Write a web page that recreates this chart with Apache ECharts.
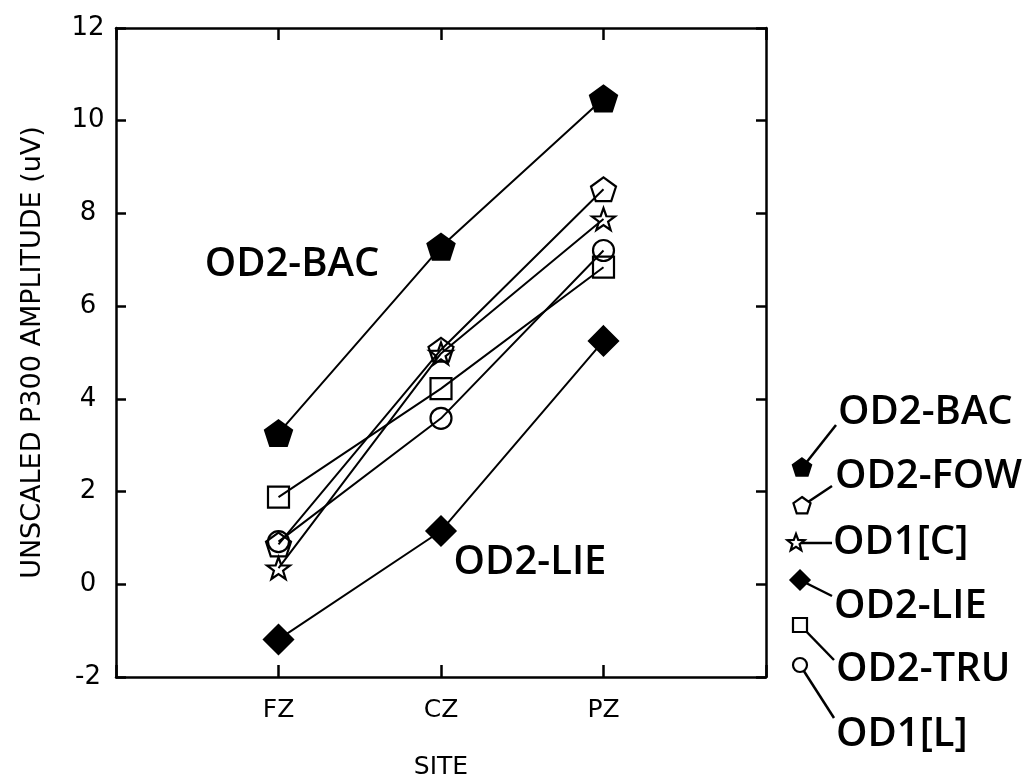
<!DOCTYPE html>
<html>
<head>
<meta charset="utf-8">
<script src="https://cdn.jsdelivr.net/npm/echarts@6/dist/echarts.min.js"></script>
<style>
  html, body { margin: 0; padding: 0; background: #fff; }
  #chart { width: 1031px; height: 776px; }
</style>
</head>
<body>
<div id="chart"></div>
<script>
// sites along the x axis
const sites = ["FZ", "CZ", "PZ"];
const yTicks = [-2, 0, 2, 4, 6, 8, 10, 12];

// amplitudes (uV) per condition, FZ / CZ / PZ
const od2Bac = [3.26, 7.28, 10.48];
const od2Fow = [0.86, 5.06, 8.52];
const od1C = [0.35, 4.98, 7.88];
const od2Lie = [-1.19, 1.15, 5.25];
const od2Tru = [1.88, 4.22, 6.84];
const od1L = [0.92, 3.58, 7.2];

const names = ["OD2-BAC", "OD2-FOW", "OD1[C]", "OD2-LIE", "OD2-TRU", "OD1[L]"];

const pentagon = "path://M0,-10 L9.51,-3.09 L5.88,8.09 L-5.88,8.09 L-9.51,-3.09 Z";
const star = "path://M0,-10 L2.35,-3.24 L9.51,-3.09 L3.8,1.24 L5.88,8.09 L0,4 L-5.88,8.09 L-3.8,1.24 L-9.51,-3.09 L-2.35,-3.24 Z";

// symbol, size, filled
const marks = [
  [pentagon, 27, true],
  [pentagon, 25, false],
  [star, 23, false],
  ["diamond", 29, true],
  ["rect", 21, false],
  ["circle", 21, false]
];

const allData = [od2Bac, od2Fow, od1C, od2Lie, od2Tru, od1L];

const chart = echarts.init(document.getElementById("chart"));

const series = allData.map((vals, k) => ({
  name: names[k],
  type: "line",
  data: vals.map((v, i) => [i + 1, v]),
  symbol: marks[k][0],
  symbolSize: marks[k][1],
  symbolKeepAspect: true,
  lineStyle: { color: "#000", width: 2 },
  itemStyle: {
    color: marks[k][2] ? "#000" : "rgba(255,255,255,0)",
    borderColor: "#000",
    borderWidth: 2.2
  },
  emphasis: { disabled: true },
  z: 3
}));

const font = "DejaVu Sans";
const bigFont = "Open Sans";
const bigText = "600 40px '" + bigFont + "'";

// small marker shapes for the hand-placed legend
function pentPts(cx, cy, r) {
  const pts = [];
  for (let i = 0; i < 5; i++) {
    const a = -Math.PI / 2 + i * 2 * Math.PI / 5;
    pts.push([cx + r * Math.cos(a), cy + r * Math.sin(a)]);
  }
  return pts;
}
function starPts(cx, cy, r) {
  const pts = [];
  for (let i = 0; i < 10; i++) {
    const a = -Math.PI / 2 + i * Math.PI / 5;
    const rr = i % 2 ? r * 0.42 : r;
    pts.push([cx + rr * Math.cos(a), cy + rr * Math.sin(a)]);
  }
  return pts;
}
function legendMark(k, x, y) {
  const solid = { fill: "#000", stroke: "#000", lineWidth: 1.5 };
  const open = { fill: "#fff", stroke: "#000", lineWidth: 2.2 };
  switch (k) {
    case 0: return { type: "polygon", shape: { points: pentPts(x, y, 10) }, style: solid };
    case 1: return { type: "polygon", shape: { points: pentPts(x, y, 9) }, style: open };
    case 2: return { type: "polygon", shape: { points: starPts(x, y, 9) }, style: open };
    case 3: return { type: "polygon", shape: { points: [[x, y - 10], [x + 10, y], [x, y + 10], [x - 10, y]] }, style: solid };
    case 4: return { type: "rect", shape: { x: x - 7, y: y - 7, width: 14, height: 14 }, style: open };
    default: return { type: "circle", shape: { cx: x, cy: y, r: 7 }, style: open };
  }
}

// hand-placed legend with leader lines, as in the scan
const legendPos = [
  { m: [802, 468], t: [838, 413], l: [836, 425] },
  { m: [802, 506], t: [835, 477], l: [832, 486] },
  { m: [796, 543], t: [833, 543], l: [832, 543] },
  { m: [800, 580], t: [834, 607], l: [832, 596] },
  { m: [800, 625], t: [836, 670], l: [834, 660] },
  { m: [800, 665], t: [836, 735], l: [834, 718] }
];
const legendGraphics = [];
names.forEach((n, k) => {
  const p = legendPos[k];
  legendGraphics.push({
    type: "line",
    shape: { x1: p.m[0], y1: p.m[1], x2: p.l[0], y2: p.l[1] },
    style: { stroke: "#000", lineWidth: 2.5 }
  });
  legendGraphics.push(Object.assign(legendMark(k, p.m[0], p.m[1]), { z: 10 }));
  legendGraphics.push({
    type: "text",
    x: p.t[0], y: p.t[1],
    style: { text: n, font: bigText, fill: "#000", verticalAlign: "middle", align: "left" }
  });
});

const frameLine = { onZero: false, lineStyle: { color: "#000", width: 2.5 } };
const frameTick = { inside: true, length: 12, lineStyle: { color: "#000", width: 2.5 } };

chart.setOption({
  animation: false,
  grid: { left: 116, right: 265, top: 28, bottom: 99, outerBoundsMode: "none" },
  xAxis: [{
    type: "value",
    min: 0, max: 4, interval: 1,
    name: "SITE",
    nameLocation: "middle",
    nameGap: 78,
    nameTextStyle: { fontFamily: font, fontSize: 25, color: "#000" },
    axisLine: frameLine,
    axisTick: frameTick,
    axisLabel: {
      margin: 21, fontFamily: font, fontSize: 25, color: "#000",
      formatter: v => sites[v - 1] || ""
    },
    splitLine: { show: false }
  }, {
    type: "value",
    position: "top",
    min: 0, max: 4, interval: 1,
    axisLine: frameLine,
    axisTick: frameTick,
    axisLabel: { show: false },
    splitLine: { show: false }
  }],
  yAxis: [{
    type: "value",
    min: yTicks[0], max: yTicks[yTicks.length - 1], interval: 2,
    name: "UNSCALED P300 AMPLITUDE (uV)",
    nameLocation: "middle",
    nameRotate: 90,
    nameGap: 70,
    nameTextStyle: { fontFamily: font, fontSize: 27, color: "#000" },
    axisLine: Object.assign({ show: true }, frameLine),
    axisTick: { show: true, inside: true, length: 10, lineStyle: { color: "#000", width: 2.5 } },
    axisLabel: { margin: 28, align: "center", fontFamily: font, fontSize: 26, color: "#000" },
    splitLine: { show: false }
  }, {
    type: "value",
    position: "right",
    min: yTicks[0], max: yTicks[yTicks.length - 1], interval: 2,
    axisLine: Object.assign({ show: true }, frameLine),
    axisTick: { show: true, inside: true, length: 10, lineStyle: { color: "#000", width: 2.5 } },
    axisLabel: { show: false },
    splitLine: { show: false }
  }],
  series: series,
  graphic: [
    {
      type: "text", x: 292, y: 265,
      style: { text: names[0], font: bigText, fill: "#000", align: "center", verticalAlign: "middle" }
    },
    {
      type: "text", x: 530, y: 563,
      style: { text: names[3], font: bigText, fill: "#000", align: "center", verticalAlign: "middle" }
    }
  ].concat(legendGraphics)
});
</script>
</body>
</html>
